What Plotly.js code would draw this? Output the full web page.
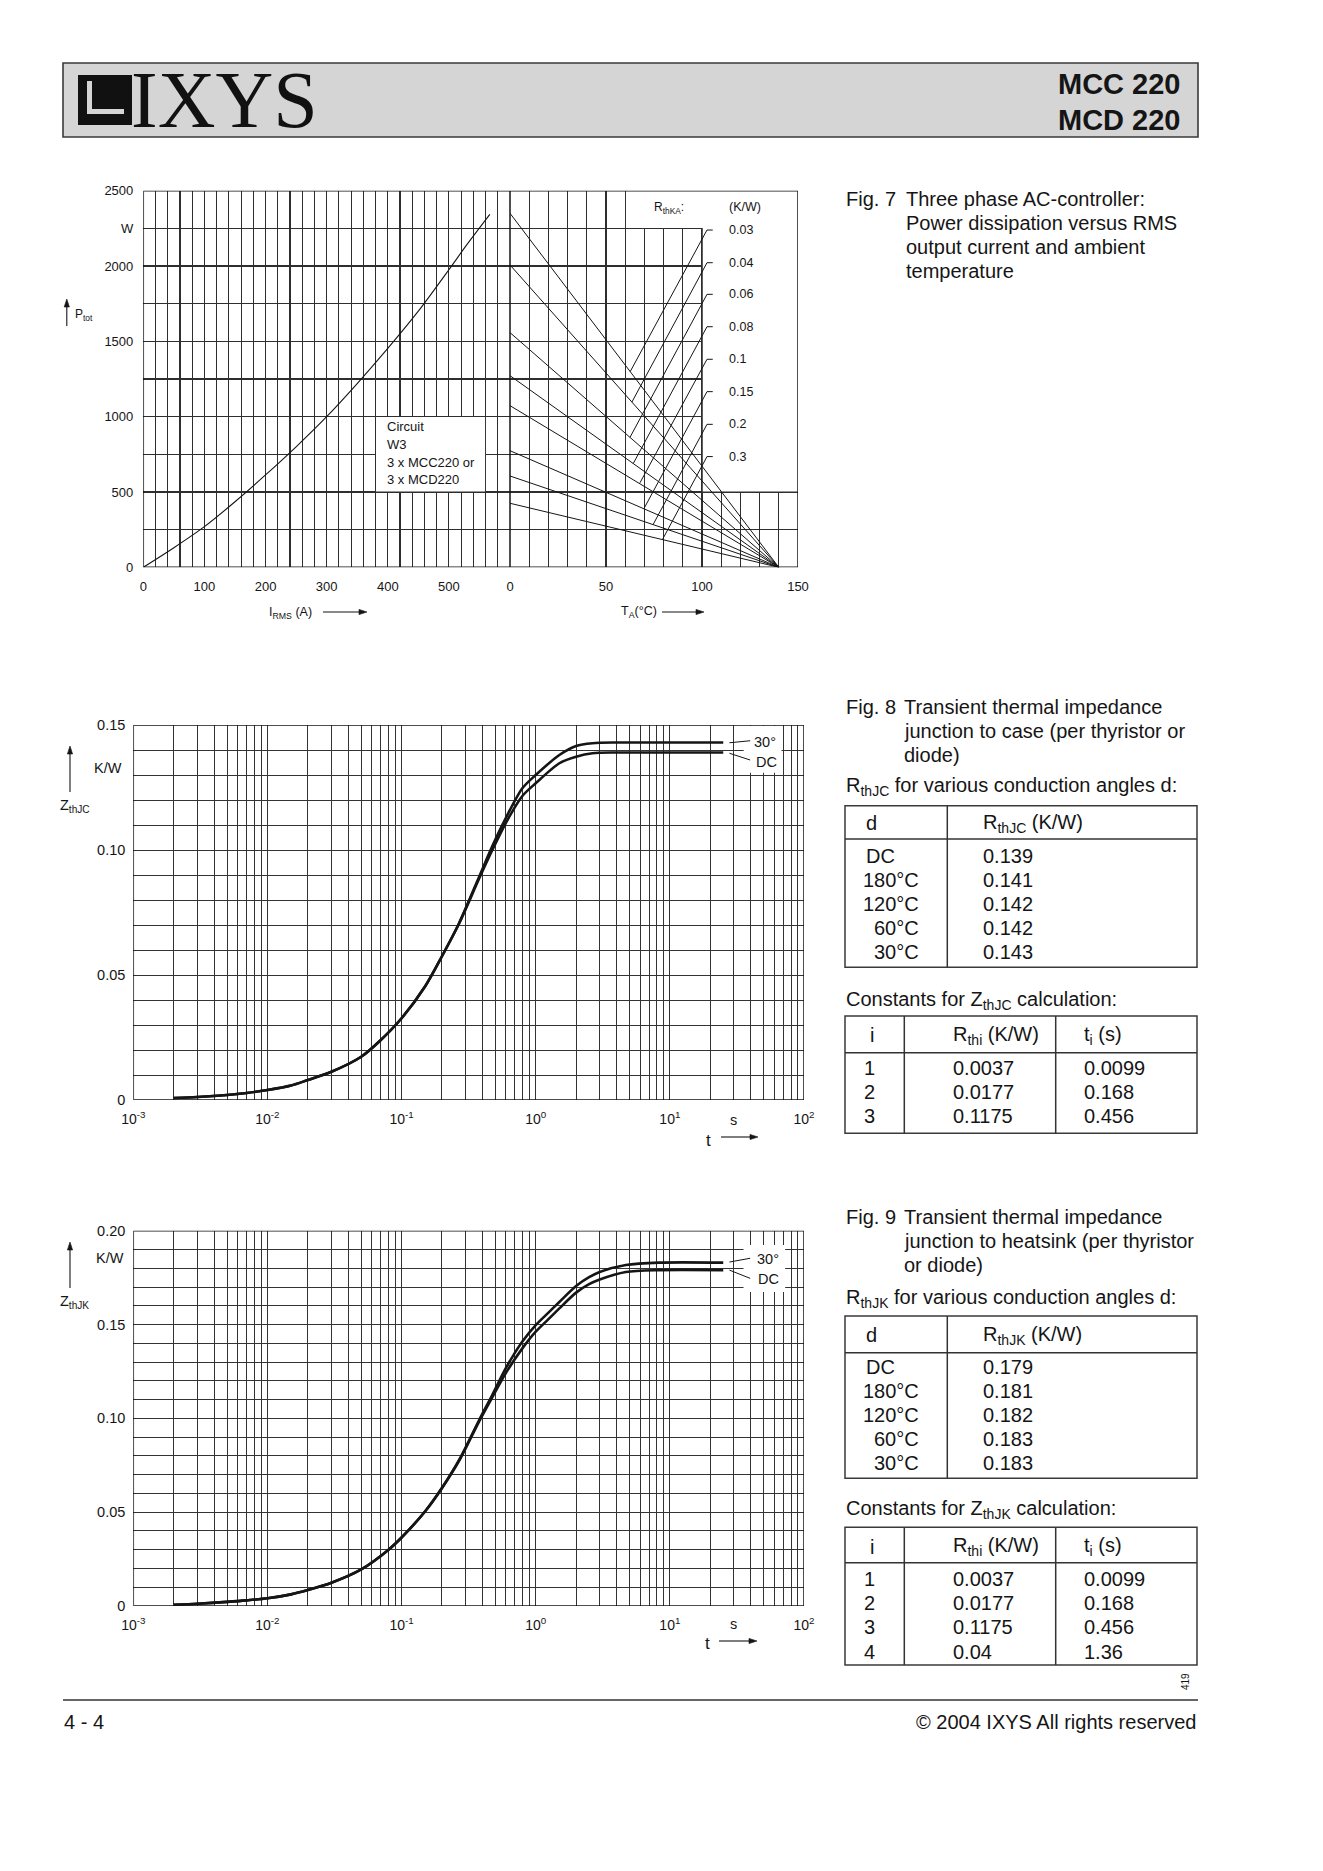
<!DOCTYPE html>
<html><head><meta charset="utf-8">
<script src="https://cdn.plot.ly/plotly-3.0.1.min.js"></script>
<style>html,body{margin:0;padding:0;background:#fff}#page{width:1323px;height:1871px}</style>
</head><body><div id="page"></div>
<script>
// ================= DATA =================
// Fig. 7 left: power dissipation vs RMS current
const irms = [0, 50, 100, 150, 200, 250, 300, 350, 400, 450, 500, 530, 567];
const ptot = [0, 130, 270, 435, 613, 800, 1000, 1220, 1453, 1700, 1975, 2145, 2343];
// Fig. 7 right: ambient temperature lines for each R_thKA
const rthkaLabels = ['0.03', '0.04', '0.06', '0.08', '0.1', '0.15', '0.2', '0.3'];
const pAtTa0 = [2350, 2007, 1558, 1272, 1073, 774, 606, 425];
const taZeroPower = 140;
const leadT0 = [62.6, 63.5, 62.5, 64.2, 67.7, 69.7, 74.5, 79.4];
const leadP0 = [1299, 1097, 863, 689, 561, 388, 283, 184];
const leadP1 = [2239, 2022, 1812, 1597, 1381, 1166, 949, 735];
const leadTopT = [102.6, 105.6];
const circuitText = ['Circuit', 'W3', '3 x MCC220 or', '3 x MCD220'];
const circuitP = [933, 816, 697, 580];
const iLabels = ['0', '100', '200', '300', '400', '500'];
const taLabels = ['0', '50', '100', '150'];
const pLabels = ['0', '500', '1000', '1500', '2000', 'W', '2500'];

// Fig. 8: Z_thJC
const t8 = [0.002, 0.003, 0.005, 0.007, 0.01, 0.015, 0.02, 0.03, 0.05, 0.07, 0.1, 0.15, 0.2, 0.268, 0.378, 0.475, 0.597, 0.795, 1.0, 1.5, 2.0, 2.65, 4.0, 10, 25];
const z8dc = [0.0008, 0.0012, 0.002, 0.0028, 0.004, 0.0058, 0.008, 0.0113, 0.0173, 0.024, 0.0327, 0.0455, 0.0575, 0.0705, 0.0885, 0.1000, 0.1107, 0.1216, 0.1267, 0.1347, 0.1373, 0.1387, 0.139, 0.139, 0.139];
const z8a30 = [0.0008, 0.0012, 0.002, 0.0028, 0.004, 0.0058, 0.008, 0.0113, 0.0173, 0.024, 0.0327, 0.0455, 0.0575, 0.0707, 0.0892, 0.1016, 0.1127, 0.1247, 0.1300, 0.1380, 0.1416, 0.1427, 0.143, 0.143, 0.143];
const lead8T = [27.8, 39.7];
const lead8a30 = [0.1429, 0.1437];
const lead8dc = [0.1387, 0.1360];
const z8Labels = ['0', '0.05', '0.10', '0.15'];

// Fig. 9: Z_thJK
const t9 = [0.002, 0.003, 0.005, 0.007, 0.01, 0.015, 0.02, 0.03, 0.05, 0.08, 0.1, 0.15, 0.2, 0.273, 0.378, 0.475, 0.597, 0.795, 1.0, 1.25, 1.5, 2.0, 2.5, 3.0, 4.7, 8.3, 25];
const z9dc = [0.0007, 0.0012, 0.0022, 0.003, 0.0041, 0.0062, 0.0085, 0.0124, 0.0195, 0.030, 0.0365, 0.0505, 0.0628, 0.0783, 0.0983, 0.1113, 0.1240, 0.1373, 0.1462, 0.1530, 0.1586, 0.1670, 0.1715, 0.1740, 0.1780, 0.179, 0.179];
const z9a30 = [0.0007, 0.0012, 0.0022, 0.003, 0.0041, 0.0062, 0.0085, 0.0124, 0.0195, 0.030, 0.0365, 0.0505, 0.0630, 0.0788, 0.0990, 0.1125, 0.1266, 0.1409, 0.1497, 0.1565, 0.1620, 0.1705, 0.1752, 0.1780, 0.1817, 0.183, 0.183];
const lead9T = [27.8, 39.7];
const lead9a30 = [0.1833, 0.1853];
const lead9dc = [0.1790, 0.1746];
const z9Labels = ['0', '0.05', '0.10', '0.15', '0.20'];

// Tables
const angles = ['DC', '180°C', '120°C', '60°C', '30°C'];
const rthjc = ['0.139', '0.141', '0.142', '0.142', '0.143'];
const rthjk = ['0.179', '0.181', '0.182', '0.183', '0.183'];
const idxJC = ['1', '2', '3'];
const rthiJC = ['0.0037', '0.0177', '0.1175'];
const tiJC = ['0.0099', '0.168', '0.456'];
const idxJK = ['1', '2', '3', '4'];
const rthiJK = ['0.0037', '0.0177', '0.1175', '0.04'];
const tiJK = ['0.0099', '0.168', '0.456', '1.36'];

// ================= HELPERS =================
const W = 1323, H = 1871;
const X = p => p / W;
const Y = p => 1 - p / H;
const INK = '#151515';
const FONT = 'Liberation Sans, Arial, Helvetica, sans-serif';

const annotations = [];
const shapes = [];
function txt(text, x, y, size, xanchor, extra) {
  annotations.push(Object.assign({
    text: text, x: X(x), y: Y(y), xref: 'paper', yref: 'paper', showarrow: false,
    xanchor: xanchor || 'left', yanchor: 'middle', borderpad: 0,
    font: {family: FONT, size: size, color: INK}
  }, extra || {}));
}
// arrow drawn as line + filled triangle (tail -> head, page pixels)
function arrow(tx, ty, hx, hy) {
  const len = Math.hypot(hx - tx, hy - ty), dx = (hx - tx) / len, dy = (hy - ty) / len;
  const hl = 8, hw = 2.6;
  const bx = hx - hl * dx, by = hy - hl * dy;
  shapes.push({type: 'line', xref: 'paper', yref: 'paper', x0: X(tx), y0: Y(ty), x1: X(bx), y1: Y(by), line: {width: 1.1, color: INK}, layer: 'above'});
  const p = [[hx, hy], [bx - hw * dy, by + hw * dx], [bx + hw * dy, by - hw * dx]];
  shapes.push({type: 'path', xref: 'paper', yref: 'paper', path: 'M' + p.map(q => X(q[0]) + ',' + Y(q[1])).join(' L') + ' Z', fillcolor: INK, line: {width: 0.6, color: INK}, layer: 'above'});
}
function rectP(x0, y0, x1, y1, line, fill) {
  shapes.push({type: 'rect', xref: 'paper', yref: 'paper', x0: X(x0), x1: X(x1), y0: Y(y1), y1: Y(y0),
    line: line || {width: 0}, fillcolor: fill || 'rgba(0,0,0,0)', layer: 'above'});
}
function lineP(x0, y0, x1, y1, w, c) {
  shapes.push({type: 'line', xref: 'paper', yref: 'paper', x0: X(x0), x1: X(x1), y0: Y(y0), y1: Y(y1),
    line: {width: w || 1.5, color: c || '#333'}, layer: 'above'});
}
function steps(step, n) { const v = []; for (let i = 0; i <= n; i++) v.push(Math.round(i * step * 1000) / 1000); return v; }
const logMinor = [];
for (let d = -3; d <= 1; d++) for (let k = 2; k <= 9; k++) logMinor.push(k * Math.pow(10, d));
const logMajor = [0.001, 0.01, 0.1, 1, 10, 100];
const logText = ['10<sup>-3</sup>', '10<sup>-2</sup>', '10<sup>-1</sup>', '10<sup>0</sup>', '10<sup>1</sup>', '10<sup>2</sup>'];

function axis(opts, minorVals, gc, gw) {
  return Object.assign({
    showgrid: true, gridcolor: gc, gridwidth: gw, zeroline: false, showline: false, ticks: '', fixedrange: true, tickmode: 'array',
    minor: {tickmode: 'array', tickvals: minorVals, showgrid: true, gridcolor: gc, gridwidth: gw, ticks: ''}
  }, opts);
}

// ================= TRACES =================
const traces = [];
traces.push({x: irms, y: ptot, xaxis: 'x', yaxis: 'y', mode: 'lines', line: {color: INK, width: 1.1, shape: 'spline', smoothing: 0.8}, hoverinfo: 'skip'});
for (let i = 0; i < pAtTa0.length; i++) {
  traces.push({x: [0, taZeroPower], y: [pAtTa0[i], 0], xaxis: 'x2', yaxis: 'y', mode: 'lines', line: {color: INK, width: 1}, hoverinfo: 'skip'});
  traces.push({x: [leadT0[i], leadTopT[0], leadTopT[1]], y: [leadP0[i], leadP1[i], leadP1[i]], xaxis: 'x2', yaxis: 'y', mode: 'lines', line: {color: INK, width: 1}, hoverinfo: 'skip'});
}
[[t8, z8dc], [t8, z8a30]].forEach(s => traces.push({x: s[0], y: s[1], xaxis: 'x3', yaxis: 'y3', mode: 'lines', line: {color: INK, width: 2.6, shape: 'spline', smoothing: 0.8}, hoverinfo: 'skip'}));
[lead8a30, lead8dc].forEach(s => traces.push({x: lead8T, y: s, xaxis: 'x3', yaxis: 'y3', mode: 'lines', line: {color: INK, width: 1}, hoverinfo: 'skip'}));
[[t9, z9dc], [t9, z9a30]].forEach(s => traces.push({x: s[0], y: s[1], xaxis: 'x4', yaxis: 'y4', mode: 'lines', line: {color: INK, width: 2.6, shape: 'spline', smoothing: 0.8}, hoverinfo: 'skip'}));
[lead9a30, lead9dc].forEach(s => traces.push({x: lead9T, y: s, xaxis: 'x4', yaxis: 'y4', mode: 'lines', line: {color: INK, width: 1}, hoverinfo: 'skip'}));

// ================= HEADER =================
shapes.push({type: 'rect', xref: 'paper', yref: 'paper', x0: X(63), x1: X(1198), y0: Y(137), y1: Y(63), line: {width: 1.6, color: '#3a3a3a'}, fillcolor: '#d5d5d5', layer: 'below'});
rectP(78, 75, 132, 125, {width: 0}, '#111');
rectP(87, 81, 92, 114, {width: 0}, '#d5d5d5');
rectP(87, 109, 124, 114, {width: 0}, '#d5d5d5');
txt('IXYS', 130, 100, 80, 'left', {font: {family: 'Liberation Serif, Times New Roman, serif', size: 80, color: '#111'}});
txt('<b>MCC 220</b>', 1182, 83.5, 29, 'right');
txt('<b>MCD 220</b>', 1182, 120, 29, 'right');

// ================= FIG 7 =================
shapes.push({type: 'rect', xref: 'x2', yref: 'y', x0: 60.4, x1: 150, y0: 2253, y1: 2500, fillcolor: '#fff', line: {width: 0}, layer: 'between'});
shapes.push({type: 'rect', xref: 'x2', yref: 'y', x0: 100.4, x1: 150, y0: 503, y1: 2500, fillcolor: '#fff', line: {width: 0}, layer: 'between'});
shapes.push({type: 'rect', xref: 'x', yref: 'y', x0: 380.8, x1: 559.2, y0: 503, y1: 997, fillcolor: '#fff', line: {width: 0}, layer: 'between'});
shapes.push({type: 'rect', xref: 'x', yref: 'y', x0: 0, x1: 600, y0: 0, y1: 2500, line: {width: 1.5, color: INK}, layer: 'above'});
shapes.push({type: 'rect', xref: 'x2', yref: 'y', x0: 0, x1: 150, y0: 0, y1: 2500, line: {width: 1.5, color: INK}, layer: 'above'});
annotations.push({text: 'R<sub>thKA</sub>:', x: 74, y: 2383, xref: 'x2', yref: 'y', showarrow: false, xanchor: 'left', yanchor: 'middle', font: {family: FONT, size: 12, color: INK}});
annotations.push({text: '(K/W)', x: 113, y: 2394, xref: 'x2', yref: 'y', showarrow: false, xanchor: 'left', yanchor: 'middle', font: {family: FONT, size: 12.5, color: INK}});
rthkaLabels.forEach((l, i) => annotations.push({text: l, x: 113, y: leadP1[i], xref: 'x2', yref: 'y', showarrow: false, xanchor: 'left', yanchor: 'middle', font: {family: FONT, size: 12.5, color: INK}}));
circuitText.forEach((l, i) => annotations.push({text: l, x: 395, y: circuitP[i], xref: 'x', yref: 'y', showarrow: false, xanchor: 'left', yanchor: 'middle', font: {family: FONT, size: 13, color: INK}}));
txt('P<sub>tot</sub>', 74, 315, 12);
arrow(66.8, 326, 66.8, 299);
txt('I<sub>RMS</sub> (A)', 268, 613, 12.5);
arrow(323, 612, 367, 612);
txt('T<sub>A</sub>(°C)', 620, 612, 12.5);
arrow(662, 612, 704, 612);

// ================= FIG 8 =================
shapes.push({type: 'rect', xref: 'x3', yref: 'y3', x0: 35.5, x1: 68, y0: 0.1309, y1: 0.1497, fillcolor: '#fff', line: {width: 0}, layer: 'between'});
shapes.push({type: 'rect', xref: 'x3', yref: 'y3', x0: 0.001, x1: 100, y0: 0, y1: 0.15, line: {width: 1.5, color: INK}, layer: 'above'});
txt('30°', 753, 742, 14.5);
txt('DC', 755, 762, 14.5);
txt('K/W', 123, 768, 14.5, 'right');
txt('Z<sub>thJC</sub>', 59, 806, 14.5);
arrow(70, 792, 70, 746);
txt('s', 733, 1120, 14.5, 'center');
txt('t', 708, 1140, 17, 'center');
arrow(721, 1137, 758, 1137);

// ================= FIG 9 =================
shapes.push({type: 'rect', xref: 'x4', yref: 'y4', x0: 35.4, x1: 72.4, y0: 0.1673, y1: 0.1924, fillcolor: '#fff', line: {width: 0}, layer: 'between'});
shapes.push({type: 'rect', xref: 'x4', yref: 'y4', x0: 0.001, x1: 100, y0: 0, y1: 0.2, line: {width: 1.5, color: INK}, layer: 'above'});
txt('30°', 756, 1259, 14.5);
txt('DC', 757, 1279, 14.5);
txt('K/W', 125, 1258, 14.5, 'right');
txt('Z<sub>thJK</sub>', 59, 1302, 14.5);
arrow(70, 1288, 70, 1242);
txt('s', 733, 1624, 14.5, 'center');
txt('t', 707, 1643, 17, 'center');
arrow(719, 1641, 757, 1641);

// ================= RIGHT TEXT =================
const FS = 20;
txt('Fig. 7', 845, 199, FS);
txt('Three phase AC-controller:', 905, 199, FS);
txt('Power dissipation versus RMS', 905, 223, FS);
txt('output current and ambient', 905, 247, FS);
txt('temperature', 905, 271, FS);

function block(fig, y0, lines, rName, zName, ratings, idx, rthi, ti, tb) {
  txt('Fig. ' + fig, 845, y0, FS);
  txt(lines[0], 903, y0, FS);
  txt(lines[1], 903, y0 + 24, FS);
  txt(lines[2], 903, y0 + 47.5, FS);
  txt('R<sub>' + rName + '</sub> for various conduction angles d:', 845, tb.cap1, FS);
  rectP(845, tb.t1, 1197, tb.b1, {width: 1.5, color: '#3a3a3a'});
  lineP(947.3, tb.t1, 947.3, tb.b1);
  lineP(845, tb.d1, 1197, tb.d1);
  txt('d', 865, tb.h1, FS);
  txt('R<sub>' + rName + '</sub> (K/W)', 982, tb.h1, FS);
  angles.forEach((a, i) => {
    if (i === 0) txt(a, 865, tb.r1[i], FS); else txt(a, 920, tb.r1[i], FS, 'right');
    txt(ratings[i], 982, tb.r1[i], FS);
  });
  txt('Constants for Z<sub>' + zName + '</sub> calculation:', 845, tb.cap2, FS);
  rectP(845, tb.t2, 1197, tb.b2, {width: 1.5, color: '#3a3a3a'});
  lineP(904.3, tb.t2, 904.3, tb.b2);
  lineP(1055.7, tb.t2, 1055.7, tb.b2);
  lineP(845, tb.d2, 1197, tb.d2);
  txt('i', 872, tb.h2, FS, 'center');
  txt('R<sub>thi</sub> (K/W)', 951.5, tb.h2, FS);
  txt('t<sub>i</sub> (s)', 1083, tb.h2, FS);
  idx.forEach((n, i) => {
    txt(n, 869, tb.r2[i], FS, 'center');
    txt(rthi[i], 951.5, tb.r2[i], FS);
    txt(ti[i], 1083, tb.r2[i], FS);
  });
}
block('8', 707, ['Transient thermal impedance', 'junction to case (per thyristor or', 'diode)'], 'thJC', 'thJC', rthjc, idxJC, rthiJC, tiJC,
  {cap1: 787, t1: 805.7, d1: 839, b1: 967.3, h1: 823, r1: [856, 880, 904, 928, 952], cap2: 1000.5, t2: 1016, d2: 1052.7, b2: 1133.3, h2: 1035, r2: [1067.7, 1091.7, 1116]});
block('9', 1217, ['Transient thermal impedance', 'junction to heatsink (per thyristor', 'or diode)'], 'thJK', 'thJK', rthjk, idxJK, rthiJK, tiJK,
  {cap1: 1298, t1: 1316, d1: 1352.7, b1: 1478.3, h1: 1335, r1: [1366.7, 1391, 1415, 1439.3, 1463.3], cap2: 1509.5, t2: 1527.3, d2: 1562.7, b2: 1665, h2: 1546.7, r2: [1579, 1603.3, 1627.3, 1651.7]});

// ================= FOOTER =================
lineP(63, 1700, 1198, 1700, 1.5, '#333');
txt('4 - 4', 63, 1722, 20);
txt('© 2004 IXYS All rights reserved', 1197, 1722, 20, 'right');
txt('419', 1185, 1682, 10, 'center', {textangle: -90});

// ================= LAYOUT =================
const G7 = '#2e2e2e', G8 = '#333';
const layout = {
  width: W, height: H, margin: {l: 0, r: 0, t: 0, b: 0},
  paper_bgcolor: '#fff', plot_bgcolor: '#fff', showlegend: false, hovermode: false,
  font: {family: FONT, color: INK},
  xaxis: axis({domain: [X(143.3), X(510)], range: [0, 600], anchor: 'y', tickvals: [0, 100, 200, 300, 400, 500], ticktext: iLabels, tickfont: {size: 13}, ticklabelstandoff: 10}, steps(20, 30), G7, 1.1),
  xaxis2: axis({domain: [X(510), X(798)], range: [0, 150], anchor: 'y', tickvals: [0, 50, 100, 150], ticktext: taLabels, tickfont: {size: 13}, ticklabelstandoff: 10}, steps(10, 15), G7, 1.1),
  yaxis: axis({domain: [Y(567.3), Y(190.7)], range: [0, 2500], anchor: 'x', tickvals: [0, 500, 1000, 1500, 2000, 2250, 2500], ticktext: pLabels, tickfont: {size: 13}, ticklabelstandoff: 9}, steps(250, 10), G7, 1.1),
  xaxis3: axis({domain: [X(133.3), X(804)], type: 'log', range: [-3, 2], anchor: 'y3', tickvals: logMajor, ticktext: logText, tickfont: {size: 14}, ticklabelstandoff: 9}, logMinor, G8, 1),
  yaxis3: axis({domain: [Y(1100), Y(725)], range: [0, 0.15], anchor: 'x3', tickvals: [0, 0.05, 0.1, 0.15], ticktext: z8Labels, tickfont: {size: 14.5}, ticklabelstandoff: 7}, steps(0.01, 15), G8, 1),
  xaxis4: axis({domain: [X(133.3), X(804)], type: 'log', range: [-3, 2], anchor: 'y4', tickvals: logMajor, ticktext: logText, tickfont: {size: 14}, ticklabelstandoff: 9}, logMinor, G8, 1),
  yaxis4: axis({domain: [Y(1606), Y(1230.7)], range: [0, 0.2], anchor: 'x4', tickvals: [0, 0.05, 0.1, 0.15, 0.2], ticktext: z9Labels, tickfont: {size: 14.5}, ticklabelstandoff: 7}, steps(0.01, 20), G8, 1),
  shapes: shapes,
  annotations: annotations
};
Plotly.newPlot('page', traces, layout, {staticPlot: true, displayModeBar: false});
</script></body></html>
